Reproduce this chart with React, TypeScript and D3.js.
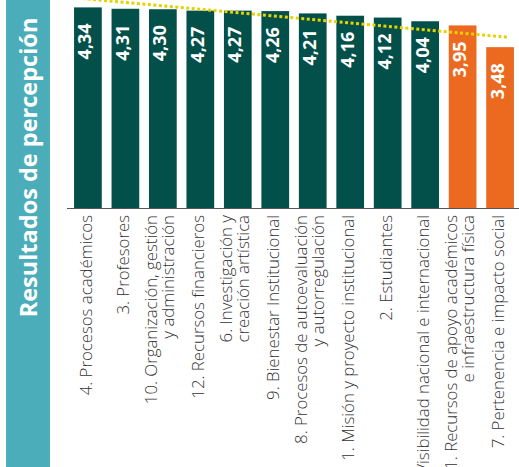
import * as d3 from 'd3'

// scores per factor, already sorted high to low
const categories = [
  ['4. Procesos académicos'],
  ['3. Profesores'],
  ['10. Organización, gestión', 'y administración'],
  ['12. Recursos financieros'],
  ['6. Investigación y', 'creación artística'],
  ['9. Bienestar Institucional'],
  ['8. Procesos de autoevaluación', 'y autorregulación'],
  ['1. Misión y proyecto institucional'],
  ['2. Estudiantes'],
  ['5. Visibilidad nacional e internacional'],
  ['11. Recursos de apoyo académicos', 'e infraestructura física'],
  ['7. Pertenencia e impacto social'],
]
const values = [4.34, 4.31, 4.3, 4.27, 4.27, 4.26, 4.21, 4.16, 4.12, 4.04, 3.95, 3.48]
// trend line: value at first and last factor
const trendValues = [4.52, 3.71]
const title = 'Resultados de percepción'
const threshold = 4

const W = 519
const H = 467
const font = '"Open Sans", "DejaVu Sans", sans-serif'

export default function App() {
  const x = d3.scaleBand<number>()
    .domain(values.map((_, i) => i))
    .range([69, 519])
    .paddingInner(0.26)
    .paddingOuter(0.135)
  const y = d3.scaleLinear().domain([0, 4.5]).range([208, 0])
  const bw = x.bandwidth()
  const cx = (i: number) => (x(i) as number) + bw / 2

  // trend as a straight line across the factor positions
  const ti = d3.scaleLinear().domain([0, values.length - 1]).range(trendValues)
  const tx = d3.scaleLinear().domain([0, values.length - 1]).range([cx(0), cx(values.length - 1)])
  const trend = d3.line<number>()
    .x(d => tx(d))
    .y(d => y(ti(d)))([-0.3, values.length - 1 + 0.2])

  const fmt = (v: number) => v.toFixed(2).replace('.', ',')

  return (
    <div style={{ position: 'absolute', left: 0, top: 0 }}>
      <svg width={W} height={H} style={{ display: 'block' }}>
        <rect x={6} y={0} width={44} height={H} fill="#4badb9" />
        <text
          transform={`translate(37,${167.5}) rotate(-90)`}
          textAnchor="middle"
          fill="#fff"
          fontFamily={font}
          fontWeight={700}
          fontSize={23.5}
        >
          {title}
        </text>

        {values.map((v, i) => (
          <g key={i}>
            <rect
              x={x(i)}
              y={y(v)}
              width={bw}
              height={y(0) - y(v)}
              fill={v < threshold ? '#ec6a1f' : '#03504a'}
            />
            <text
              transform={`translate(${cx(i) + 3.5},${y(v) + 16}) rotate(-90)`}
              textAnchor="end"
              fill="#fff"
              fontFamily={font}
              fontWeight={700}
              fontSize={18}
            >
              {fmt(v)}
            </text>
          </g>
        ))}

        <clipPath id="plot">
          <rect x={60} y={0} width={W} height={208} />
        </clipPath>
        <path
          d={trend ?? ''}
          fill="none"
          stroke="#e6d200"
          strokeWidth={3}
          strokeDasharray="3 2.5"
          clipPath="url(#plot)"
        />

        <line x1={67} x2={W} y1={208.5} y2={208.5} stroke="#555" strokeWidth={1.2} />

        {categories.map((lines, i) => (
          <text
            key={i}
            transform={`translate(${cx(i)},215) rotate(-90)`}
            textAnchor="end"
            fill="#333"
            fontFamily={font}
            fontWeight={300}
            fontSize={16.8}
          >
            {lines.map((l, j) => (
              <tspan
                key={j}
                x={0}
                y={lines.length === 1 ? 4 : j === 0 ? -5.5 : 11.5}
              >
                {l}
              </tspan>
            ))}
          </text>
        ))}
      </svg>
    </div>
  )
}
